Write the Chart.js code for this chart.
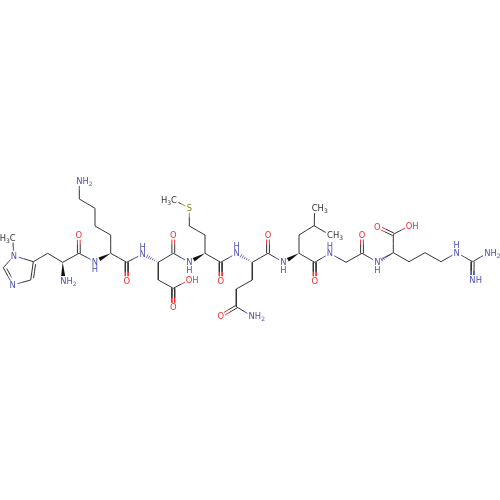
<!DOCTYPE html>
<html><head><meta charset="utf-8">
<style>html,body{margin:0;padding:0;background:#fff}canvas{display:block}</style>
<script src="https://cdn.jsdelivr.net/npm/chart.js@4"></script></head>
<body><canvas id="c" width="500" height="500"></canvas>
<script>
const atomX=[14,33.3,30.7,12.7,3.3,12.7,47.7,62.7,63.3,79,78.7,95,110.7,110.7,95,95,79.3,79.3,126.7,126.7,142.7,158.3,158.3,173.3,173.3,189,173.3,173.3,189.3,205,205,189.3,189.3,174,220.7,220.7,236.7,252.3,252.3,236.3,236.3,220.7,251.7,268,268,283.5,299,299,314,314.7,330,314.7,314.7,330,346,362,362,377.3,393.3,393.3,377.3,409,409,425,441,456.7,472.7,487.3,472.5];
const atomY=[255.7,261.7,280,285,267.7,237.7,253.3,262.3,281,253.3,235.3,261.7,253.3,235,226,208.3,199,181,262.3,280.7,254,262.3,280,288.3,307.3,280,253.3,235,262.3,253.3,235,226,208.3,200,262.3,280.7,253.3,262.3,280,289,306.7,316,316,253.3,235,262.3,253.3,235,225.7,208.3,235,262.3,280.7,253.3,262.3,253.3,235,262,252.7,234.3,226.7,226,261.7,252.7,261.7,252.7,261.7,253,280];
const atomKind="NCCNCMCCNCONCCCCCNCONCCCOOCONCCCSMCONCCCCONCONCCCMMCONCCONCCOOCCCNCNN";
const singleBonds=[[0,1],[2,3],[4,0],[0,5],[1,6],[6,7],[7,9],[9,11],[12,13],[13,14],[14,15],[15,16],[16,17],[12,18],[18,20],[21,22],[22,23],[23,25],[21,26],[26,28],[29,30],[30,31],[31,32],[32,33],[29,34],[34,36],[37,38],[38,39],[39,40],[40,42],[37,43],[43,45],[46,47],[47,48],[48,49],[48,50],[46,51],[51,53],[53,54],[54,55],[55,57],[57,58],[58,59],[59,61],[58,62],[62,63],[63,64],[64,65],[65,66],[66,67]];
const doubleBonds=[[9,10],[18,19],[23,24],[26,27],[34,35],[40,41],[43,44],[51,52],[55,56],[59,60],[66,68]];
const ringDoubleBonds=[[1,2,-1],[3,4,1]];
const solidWedges=[[7,8],[12,11],[29,28],[46,45]];
const hashWedges=[[21,20],[37,36],[58,57]];
const atomLabels=[[0,"N",0],[3,"N",0],[5,"H_3C",2],[8,"NH_2",0],[10,"O",0],[11,"N",0],[17,"NH_2",0],[19,"O",0],[20,"N",0],[24,"O",0],[25,"OH",0],[27,"O",0],[28,"N",0],[32,"S",0],[33,"H_3C",2],[35,"O",0],[36,"N",0],[41,"O",0],[42,"NH_2",0],[44,"O",0],[45,"N",0],[49,"CH_3",0],[50,"CH_3",0],[52,"O",0],[53,"N",0],[56,"O",0],[57,"N",0],[60,"O",0],[61,"OH",0],[65,"N",0],[67,"NH_2",0],[68,"NH",0]];
const amideHydrogens=[[11,1],[20,-1],[28,1],[36,-1],[45,1],[53,-1],[57,1],[65,-1]];
const kindColor={C:"#333333",M:"#333333",N:"#4a4ab4",O:"#f03030",S:"#9a9420"};
const labelColor={C:"#333333",M:"#333333",N:"#5050b0",O:"#f03030",S:"#8a8420"};
const trim={C:0,M:5,N:5,O:4.5,S:4.5};

const buckets={C:[],N:[],O:[],S:[]};
const GAP={x:null,y:null};
function bucket(k){return k==="M"?"C":k}
function halves(x1,y1,x2,y2,a,b){
  const L=Math.hypot(x2-x1,y2-y1),ux=(x2-x1)/L,uy=(y2-y1)/L,ta=trim[atomKind[a]],tb=trim[atomKind[b]];
  const mx=(x1+x2)/2,my=(y1+y2)/2;
  buckets[bucket(atomKind[a])].push({x:x1+ux*ta,y:y1+uy*ta},{x:mx,y:my},GAP);
  buckets[bucket(atomKind[b])].push({x:mx,y:my},{x:x2-ux*tb,y:y2-uy*tb},GAP);
}
singleBonds.forEach(([a,b])=>halves(atomX[a],atomY[a],atomX[b],atomY[b],a,b));
doubleBonds.forEach(([a,b])=>{
  const dx=atomX[b]-atomX[a],dy=atomY[b]-atomY[a],L=Math.hypot(dx,dy),nx=-dy/L*1.4,ny=dx/L*1.4;
  [1,-1].forEach(s=>halves(atomX[a]+nx*s,atomY[a]+ny*s,atomX[b]+nx*s,atomY[b]+ny*s,a,b));
});
ringDoubleBonds.forEach(([a,b,s])=>{
  halves(atomX[a],atomY[a],atomX[b],atomY[b],a,b);
  const dx=atomX[b]-atomX[a],dy=atomY[b]-atomY[a],L=Math.hypot(dx,dy),nx=-dy/L*2.6*s,ny=dx/L*2.6*s;
  halves(atomX[a]+nx+dx*.12,atomY[a]+ny+dy*.12,atomX[b]+nx-dx*.12,atomY[b]+ny-dy*.12,a,b);
});

const moleculePlugin={id:"molecule",afterDatasetsDraw(chart){
  const c=chart.ctx,X=v=>chart.scales.x.getPixelForValue(v),Y=v=>chart.scales.y.getPixelForValue(v);
  c.save();
  solidWedges.forEach(([a,b])=>{
    const x1=X(atomX[a]),y1=Y(atomY[a]);
    const L0=Math.hypot(atomX[b]-atomX[a],atomY[b]-atomY[a]),t=(L0-trim[atomKind[b]])/L0;
    const x2=x1+(X(atomX[b])-x1)*t,y2=y1+(Y(atomY[b])-y1)*t;
    const L=Math.hypot(x2-x1,y2-y1),nx=-(y2-y1)/L*2,ny=(x2-x1)/L*2;
    c.fillStyle="#111";c.beginPath();c.moveTo(x1,y1);c.lineTo(x2+nx,y2+ny);c.lineTo(x2-nx,y2-ny);c.closePath();c.fill();
  });
  hashWedges.forEach(([a,b])=>{
    const x1=X(atomX[a]),y1=Y(atomY[a]);
    const L0=Math.hypot(atomX[b]-atomX[a],atomY[b]-atomY[a]),tt=(L0-trim[atomKind[b]])/L0;
    const dx=(X(atomX[b])-x1)*tt,dy=(Y(atomY[b])-y1)*tt,L=Math.hypot(dx,dy),nx=-dy/L,ny=dx/L;
    c.lineWidth=.8;
    for(let i=1;i<=6;i++){const f=i/6,w=2*f,px=x1+dx*f,py=y1+dy*f;
      c.strokeStyle=f>.5?kindColor.N:"#333";c.beginPath();c.moveTo(px+nx*w,py+ny*w);c.lineTo(px-nx*w,py-ny*w);c.stroke();}
  });
  c.textBaseline="middle";c.textAlign="left";
  const big='8.4px "DejaVu Sans"',small='6px "DejaVu Sans"';
  function put(x,y,txt,anchor,color){
    const t=[];for(let i=0;i<txt.length;i++){if(txt[i]==="_"){i++;t.push([txt[i],true])}else t.push([txt[i],false])}
    let off=0,ax=0;
    t.forEach((p,i)=>{c.font=p[1]?small:big;const w=c.measureText(p[0]).width;if(i===anchor)ax=off+w/2;p[2]=off;off+=w});
    t.forEach(p=>{c.font=p[1]?small:big;c.fillStyle=color;c.fillText(p[0],x-ax+p[2],y+1+(p[1]?2.6:0))});
  }
  atomLabels.forEach(([a,txt,an])=>put(X(atomX[a]),Y(atomY[a]),txt,an,labelColor[atomKind[a]]));
  amideHydrogens.forEach(([a,s])=>put(X(atomX[a]),Y(atomY[a]+s*7.6),"H",0,labelColor.N));
  c.restore();
}};
function ds(k){return {data:buckets[k],borderColor:kindColor[k],borderWidth:1,showLine:true,pointRadius:0,spanGaps:false,fill:false,tension:0}}
new Chart(document.getElementById("c"),{type:"scatter",
  data:{datasets:[ds("C"),ds("N"),ds("O"),ds("S")]},
  plugins:[moleculePlugin],
  options:{responsive:false,animation:false,devicePixelRatio:1,layout:{padding:0},
    plugins:{legend:{display:false},tooltip:{enabled:false},title:{display:false}},
    scales:{x:{type:"linear",min:0,max:500,display:false},y:{type:"linear",min:0,max:500,reverse:true,display:false}}}});
</script></body></html>
